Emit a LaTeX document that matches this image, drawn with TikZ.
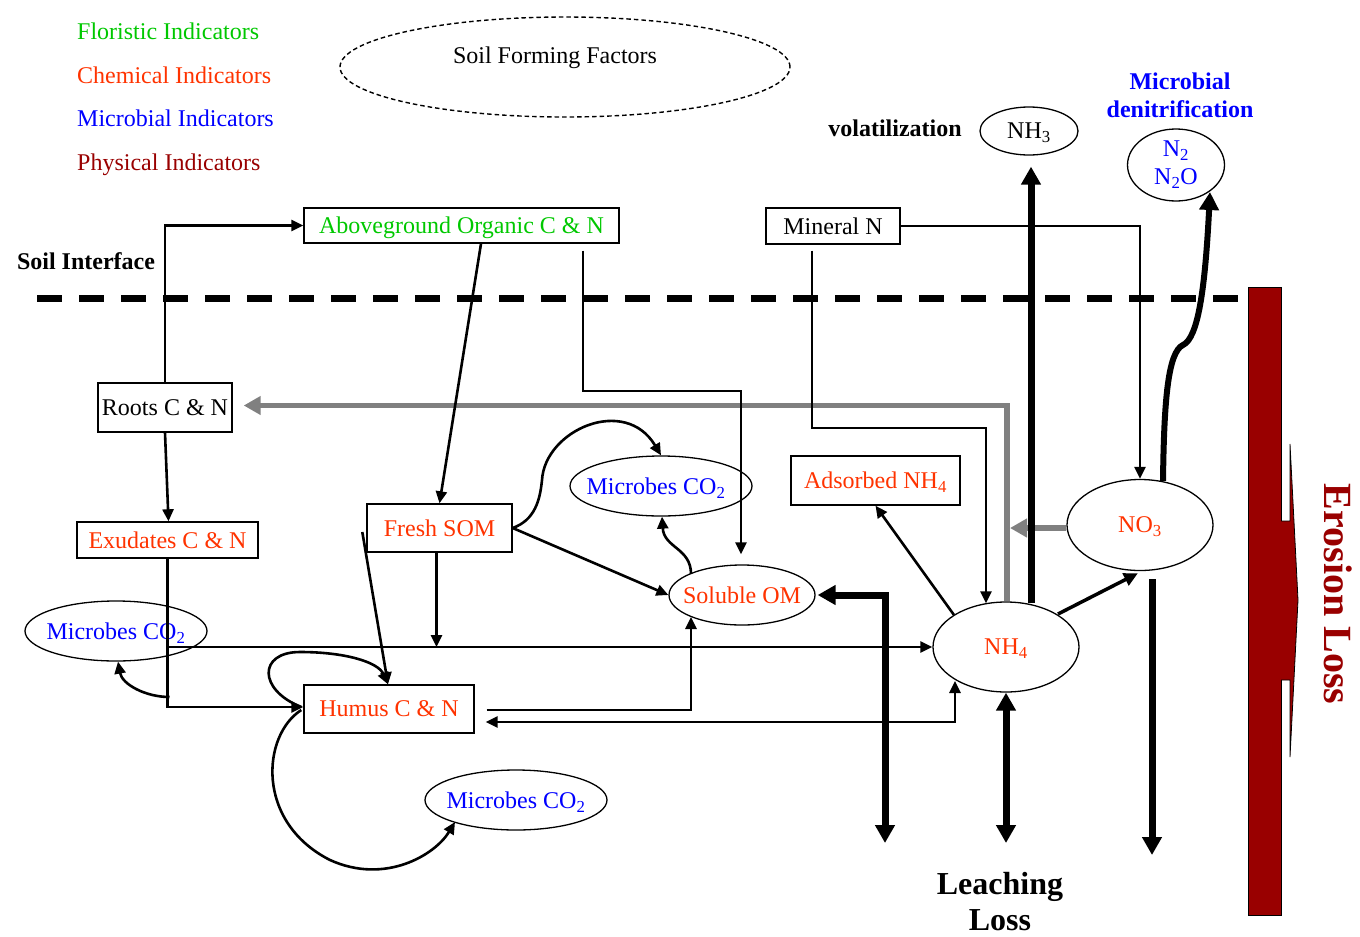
\documentclass[tikz,border=0pt]{standalone}
\usepackage{fontspec}
\setmainfont{Liberation Serif}
\usetikzlibrary{arrows.meta,shapes.geometric,calc}
\definecolor{flor}{RGB}{0,200,0}
\definecolor{chem}{RGB}{255,51,0}
\definecolor{micro}{RGB}{0,0,255}
\definecolor{phys}{RGB}{153,0,0}
\definecolor{flowgray}{RGB}{128,128,128}
\newcommand{\zerowd}[1]{\makebox[0pt]{#1}}
\begin{document}
\begin{tikzpicture}[x=1pt,y=-1pt,
  every node/.style={font=\fontsize{24}{28}\selectfont},
  box/.style={draw,line width=1.4pt,inner sep=0pt,align=center,text depth=0pt},
  oval/.style={draw,ellipse,line width=1.3pt,inner sep=0pt,align=center,text depth=0pt},
  ln/.style={line width=2.6pt},
  tipA/.style={-{Triangle[length=12pt,width=11pt]}},
  tipB/.style={{Triangle[length=12pt,width=11pt]}-{Triangle[length=12pt,width=11pt]}},
  heavy/.style={line width=7pt},
  htip/.style={-{Triangle[length=18pt,width=19pt]}},
  hboth/.style={{Triangle[length=18pt,width=19pt]}-{Triangle[length=18pt,width=19pt]}},
  grayflow/.style={draw=flowgray,line width=5.5pt,-{Triangle[length=17pt,width=18pt]}},
  legend/.style={anchor=base west,inner sep=0pt},
  boldlbl/.style={font=\fontsize{24}{28}\selectfont\bfseries,inner sep=0pt,align=center}
]
\useasboundingbox (0,0) rectangle (1360,937);

% legend
\node[legend,text=flor]  (lg1) at (77,39)  {Floristic Indicators};
\node[legend,text=chem]  (lg2) at (77,83)  {Chemical Indicators};
\node[legend,text=micro] (lg3) at (77,126) {Microbial Indicators};
\node[legend,text=phys]  (lg4) at (77,170) {Physical Indicators};

% soil forming factors
\node[draw,ellipse,dash pattern=on 4.5pt off 3pt,line width=1.4pt,
      minimum width=450pt,minimum height=100pt,inner sep=0pt] (sff) at (565,67) {};
\node[anchor=base,inner sep=0pt] (sfftext) at (555,63) {Soil Forming Factors};

% labels
\node[boldlbl] (volat) at (895,128) {volatilization};
\node[boldlbl,text=micro] (denit) at (1180,95) {Microbial\\denitrification};
\node[boldlbl] (soilif) at (86,261) {Soil Interface};
\node[boldlbl,font=\fontsize{32}{36}\selectfont\bfseries] (leach) at (1000,902) {Leaching\\Loss};
\node[rotate=-90,text=phys,font=\fontsize{40}{44}\selectfont\bfseries] (erosion) at (1338,594) {Erosion Loss};

% boxes
\node[box,text=flor,minimum width=315pt,minimum height=35pt] (above) at (461.5,225.5) {Aboveground Organic C \& N};
\node[box,minimum width=134pt,minimum height=36pt] (mineral) at (833,226) {Mineral N};
\node[box,minimum width=134pt,minimum height=49pt] (roots) at (165,407.5) {Roots C \& N};
\node[box,text=chem,minimum width=181pt,minimum height=36pt] (exud) at (167.5,540) {Exudates C \& N};
\node[box,text=chem,minimum width=145pt,minimum height=48pt] (fresh) at (439.5,528) {Fresh SOM};
\node[box,text=chem,minimum width=169pt,minimum height=49pt] (ads) at (875.5,480.5) {Adsorbed NH\textsubscript{4}};
\node[box,text=chem,minimum width=170pt,minimum height=48pt] (humus) at (389,709) {Humus C \& N};

% ovals
\node[oval,text=micro,minimum width=182pt,minimum height=60pt] (lmic) at (116,631) {\zerowd{Microbes CO\textsubscript{2}}};
\node[oval,text=micro,minimum width=182pt,minimum height=60pt] (mmic) at (661,486) {\zerowd{\hspace{-10pt}Microbes CO\textsubscript{2}}};
\node[oval,text=micro,minimum width=182pt,minimum height=60pt] (bmic) at (516,800) {\zerowd{Microbes CO\textsubscript{2}}};
\node[oval,text=chem,minimum width=146pt,minimum height=60pt] (sol) at (742,595) {\zerowd{Soluble OM}};
\node[oval,text=chem,minimum width=146pt,minimum height=90pt] (nh4) at (1006,647) {\zerowd{NH\textsubscript{4}}};
\node[oval,text=chem,minimum width=146pt,minimum height=91pt] (no3) at (1140,525) {\zerowd{NO\textsubscript{3}}};
\node[oval,minimum width=98pt,minimum height=48pt] (nh3) at (1029,131) {\zerowd{NH\textsubscript{3}}};
\node[oval,minimum width=97pt,minimum height=72pt,
      label={[text=micro,align=center,inner sep=0pt]center:N\textsubscript{2}\\N\textsubscript{2}O}] (n2o) at (1176,165) {};

% soil interface line
\draw[line width=7pt,dash pattern=on 25pt off 17pt] (37,298) -- (1250,298);

% erosion loss bar and arrow
\filldraw[fill=phys,draw=black,line width=0.8pt] (1248,287) rectangle (1281,915);
\filldraw[fill=phys,draw=black,line width=0.8pt]
  (1281,521) -- (1290,521) -- (1290,444) -- (1298,600) -- (1290,757) -- (1290,680) -- (1281,680);

% uptake flows (gray)
\draw[grayflow] ([xshift=1pt]nh4.north) |- ([xshift=11pt,yshift=2pt]roots.east);
\coordinate (g1) at (1010,528);
\draw[grayflow] ([yshift=-3pt]no3.west) -- (g1);

% connectors
\draw[ln,tipA] (roots.north) |- (above.west);
\draw[ln,tipA] (roots.south) -- ([xshift=1pt]exud.north);
\draw[ln,tipA] ([xshift=19.5pt]above.south) -- (fresh.north);
\coordinate (k1) at (583,391);
\coordinate (k2) at (741,391);
\draw[ln,tipA] ($(above.south -| k1)+(0,7)$) -- (k1) -- (k2) -- ($(sol.north -| k2)+(0,-10)$);
\draw[ln,tipA] (mineral.east) -| (no3.north);
\coordinate (k3) at (812,428);
\draw[ln,tipA] ($(mineral.south -| k3)+(0,6)$) -- (k3) -| ([xshift=-20pt,yshift=-2pt]nh4.north);

\draw[ln,tipA] (exud.south) |- ([yshift=2pt]humus.west);
\draw[ln,tipA] (exud.south |- nh4.west) -- (nh4.west);
\draw[ln,tipA] ($(exud.south |- humus.west)+(2,-12)$) .. controls (145,697) and (122,684) .. ([xshift=2pt]lmic.south);
\draw[ln,tipA] ($(fresh.south)+(-3,0)$) -- ($(fresh.south |- nh4.west)+(-3,0)$);
\draw[ln,tipA] ([xshift=-4pt,yshift=-4pt]fresh.west) -- ([xshift=-1pt]humus.north);
\draw[ln,tipA] ([xshift=-2pt,yshift=2pt]humus.west) .. controls (258,690) and (258,652) .. (300,652)
  .. controls (345,652) and (378,662) .. ([xshift=-1pt]humus.north);
\draw[ln,tipA] ([xshift=-2pt,yshift=-1pt]humus.west) .. controls (262,735) and (255,822) .. (330,860)
  .. controls (385,885) and (435,855) .. ([xshift=-61pt,yshift=-22pt]bmic.center);
\draw[ln,tipA] (fresh.east) .. controls (535,520) and (540,500) .. (542,480)
  .. controls (545,430) and (625,395) .. (mmic.north);
\draw[ln,tipA] (fresh.east) -- (sol.west);
\draw[ln,tipA] ([xshift=-51pt,yshift=21pt]sol.center) .. controls (691,548) and (664,548) .. ([xshift=1pt]mmic.south);
\draw[ln,tipA] ([xshift=12pt,yshift=-1pt]humus.east) -| ([xshift=-51pt,yshift=-22pt]sol.center);
\draw[ln,tipB] ([xshift=11pt,yshift=-13pt]humus.east) -| ([xshift=-51pt,yshift=-34pt]nh4.center);

\draw[ln,tipA] ([xshift=-52pt,yshift=32pt]nh4.center) -- (ads.south);
\draw[line width=3.5pt,-{Triangle[length=14pt,width=13pt]}] ([xshift=52pt,yshift=33pt]nh4.center) -- ([xshift=-2pt,yshift=-2pt]no3.south);

% heavy flows
\draw[heavy,htip] ([xshift=25pt,yshift=-2pt]nh4.north) -- ([xshift=2pt,yshift=-11pt]nh3.south);
\draw[line width=6pt,htip] ([xshift=23pt,yshift=-2pt]no3.north) .. controls (1164,400) and (1168,352) .. (1183,345)
  .. controls (1198,338) and (1205,290) .. ([xshift=34pt,yshift=-27pt]n2o.center);
\coordinate (k5) at (885,843);
\draw[heavy,hboth] ([xshift=2pt]sol.east) -| (k5);
\coordinate (k6) at (1006,843);
\draw[heavy,hboth] (nh4.south) -- (k6);
\coordinate (k7) at (1152,855);
\draw[heavy,htip] ([xshift=12pt,yshift=-8pt]no3.south) -- (k7);
\end{tikzpicture}
\end{document}
